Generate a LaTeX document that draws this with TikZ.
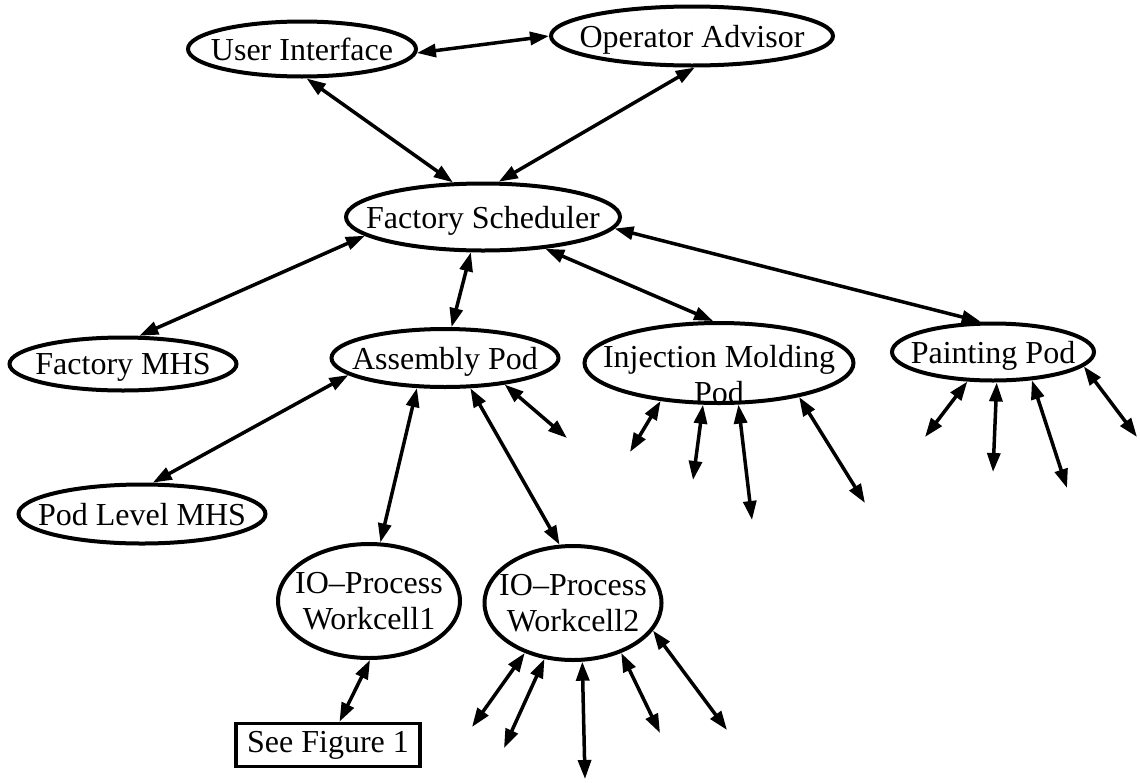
\documentclass[tikz,border=0pt]{standalone}
\usepackage{fontspec}
\setmainfont{Liberation Serif}
\usetikzlibrary{shapes.geometric,arrows.meta}

\tikzset{
  pod/.style={draw,ellipse,line width=4pt,inner xsep=-25pt,inner ysep=-15pt,text depth=0pt,
    align=center,font=\fontsize{32}{36}\selectfont},
  figbox/.style={draw,rectangle,line width=3.5pt,minimum width=184pt,minimum height=43pt,
    inner sep=0pt,font=\fontsize{32}{36}\selectfont},
  link/.style={line width=3.5pt,{Triangle[length=19pt,width=13pt]}-{Triangle[length=19pt,width=13pt]}},
}

\begin{document}
\begin{tikzpicture}[x=1pt,y=-1pt]
    \useasboundingbox (0,0) rectangle (1140,782);

    % Top level
    \node[pod,minimum width=228pt,minimum height=55pt] (ui) at (302,49) {User Interface};
    \node[pod,minimum width=282pt,minimum height=59pt] (oa) at (692,36) {Operator Advisor};
    \node[pod,minimum width=274pt,minimum height=67pt] (fs) at (483,217) {Factory Scheduler};

    % Pods
    \node[pod,minimum width=227pt,minimum height=53pt] (fmhs) at (123,364) {Factory MHS};
    \node[pod,minimum width=227pt,minimum height=58pt] (ap) at (445,358) {Assembly Pod};
    \node[pod,minimum width=269pt,minimum height=80pt] (imp) at (719,363) {\rule{0pt}{44pt}Injection Molding\\Pod};
    \node[pod,minimum width=202pt,minimum height=57pt] (pp) at (993,352) {Painting Pod};

    % Inside the assembly pod
    \node[pod,minimum width=247pt,minimum height=59pt] (plmhs) at (142,514) {Pod Level MHS};
    \node[pod,minimum width=182pt,minimum height=114pt] (wc1) at (369,601) {IO--Process\\Workcell1};
    \node[pod,minimum width=177pt,minimum height=114pt] (wc2) at (573,603) {IO--Process\\Workcell2};
    \node[figbox] (fig) at (328,745) {See Figure 1};

    % Links between nodes
    \draw[link] (ui.-2) -- (oa.180);
    \draw[link] (ui.-81) -- (fs.131);
    \draw[link] (oa.-85) -- (fs.66);
    \draw[link] (fs.-171) -- (fmhs.60);
    \draw[link] (fs.-109) -- (ap.78);
    \draw[link] (fs.-27) -- (imp.98);
    \draw[link] (fs.-5) -- (pp.112);
    \draw[link] (ap.-170) -- (plmhs.71);
    \draw[link] (ap.-133) -- (wc1.79);
    \draw[link] (ap.-50) -- (wc2.103);
    \draw[link] (wc1.-89) -- (fig);

    % Loose ends
    \coordinate (ap1) at (567,438);
    \draw[link] (ap.-24) -- (ap1);

    \coordinate (imp1) at (630,452);
    \coordinate (imp2) at (693,480);
    \coordinate (imp3) at (752,520);
    \coordinate (imp4) at (865,503);
    \draw[link] (imp.-147) -- (imp1);
    \draw[link] (imp.-111) -- (imp2);
    \draw[link] (imp.-65) -- (imp3);
    \draw[link] (imp.-23) -- (imp4);

    \coordinate (pp1) at (925,437);
    \coordinate (pp2) at (993,472);
    \coordinate (pp3) at (1067,488);
    \coordinate (pp4) at (1137,437);
    \draw[link] (pp.-131) -- (pp1);
    \draw[link] (pp.-83) -- (pp2);
    \draw[link] (pp.-36) -- (pp3);
    \draw[link] (pp.-9) -- (pp4);

    \coordinate (wc1a) at (472,727);
    \coordinate (wc2b) at (504,748);
    \coordinate (wc2c) at (585,779);
    \coordinate (wc2d) at (660,733);
    \coordinate (wc2e) at (727,730);
    \draw[link] (wc2.-134) -- (wc1a);
    \draw[link] (wc2.-117) -- (wc2b);
    \draw[link] (wc2.-81) -- (wc2c);
    \draw[link] (wc2.-46) -- (wc2d);
    \draw[link] (wc2.-19) -- (wc2e);
\end{tikzpicture}
\end{document}
